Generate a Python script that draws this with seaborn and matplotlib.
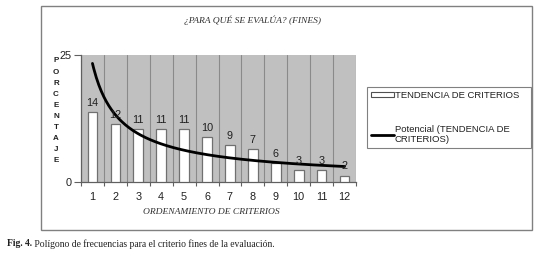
import numpy as np
import pandas as pd
import matplotlib
matplotlib.use("Agg")
import matplotlib.pyplot as plt
from matplotlib.patches import Rectangle
from matplotlib.lines import Line2D
import seaborn as sns

# ---- data ----
criterios = [1, 2, 3, 4, 5, 6, 7, 8, 9, 10, 11, 12]
porcentaje = [13.75, 11.4, 10.4, 10.4, 10.4, 8.9, 7.3, 6.5, 3.8, 2.4, 2.4, 1.25]
etiquetas = ["14", "12", "11", "11", "11", "10", "9", "7", "6", "3", "3", "2"]
y_ticks = [0, 25]
titulo = "¿PARA QUÉ SE EVALÚA? (FINES)"
eje_x = "ORDENAMIENTO DE CRITERIOS"
eje_y = "PORCENTAJE"
serie = "TENDENCIA DE CRITERIOS"
tendencia = "Potencial (TENDENCIA DE\nCRITERIOS)"
pie_bold = "Fig. 4."
pie_text = " Polígono de frecuencias para el criterio fines de la evaluación."

df = pd.DataFrame({"criterio": criterios, "porcentaje": porcentaje})

# power trendline (Excel style: least squares in log-log space)
b, lna = np.polyfit(np.log(criterios), np.log(porcentaje), 1)
xs = np.linspace(1, 12, 200)
trend = pd.DataFrame({"x": xs - 1, "y": np.exp(lna) * xs ** b})

sns.set_style("white")
plt.rcParams["font.family"] = ["Liberation Sans", "DejaVu Sans"]

W, H = 536, 267
fig = plt.figure(figsize=(W / 100, H / 100), dpi=100)

def fx(px):
    return px / W

def fy(py):
    return 1 - py / H

# outer frame
fig.patches.append(Rectangle((fx(41), fy(230)), fx(532) - fx(41), fy(6) - fy(230),
                             transform=fig.transFigure, fill=False,
                             edgecolor="#808080", linewidth=1.0))

ax = fig.add_axes([fx(81), fy(182), fx(356) - fx(81), fy(55) - fy(182)])
ax.set_facecolor("#c0c0c0")

sns.barplot(data=df, x="criterio", y="porcentaje", color="white",
            edgecolor="#707070", linewidth=0.9, width=0.42, saturation=1,
            ax=ax, zorder=3)
sns.lineplot(data=trend, x="x", y="y", color="black", linewidth=2.0, ax=ax,
             zorder=4)

for i, (v, t) in enumerate(zip(porcentaje, etiquetas)):
    ax.annotate(t, (i, v), xytext=(0, 3), textcoords="offset points",
                ha="center", va="bottom", fontsize=7.8, color="#202020",
                zorder=5)

n = len(criterios)
ax.set_xlim(-0.5, n - 0.5)
ax.set_ylim(0, 25)
for xb in np.arange(-0.5, n, 1.0):
    ax.axvline(xb, color="#8a8a8a", linewidth=0.8, zorder=1)

ax.set_yticks(y_ticks)
ax.set_xticks(range(n))
ax.set_xticklabels([str(c) for c in criterios])
ax.set_xticks(np.arange(-0.5, n, 1.0), minor=True)
ax.tick_params(axis="x", which="major", length=0, pad=7, labelsize=7.8,
               colors="#202020")
ax.tick_params(axis="x", which="minor", length=3, width=0.8, color="#606060",
               direction="out", bottom=True)
ax.tick_params(axis="y", length=5, width=0.8, color="#606060", pad=2,
               labelsize=7.8, labelcolor="#202020", left=True)
ax.set_xlabel("")
ax.set_ylabel("")
for s in ["top", "right"]:
    ax.spines[s].set_visible(False)
for s in ["left", "bottom"]:
    ax.spines[s].set_color("#606060")
    ax.spines[s].set_linewidth(0.9)
if ax.get_legend() is not None:
    ax.get_legend().remove()

# title and axis labels
fig.text(fx(252), fy(20), titulo, ha="center", va="center",
         family=["Liberation Serif", "DejaVu Serif"], style="italic",
         fontsize=6.8, color="#303030")
fig.text(fx(211), fy(212), eje_x, ha="center", va="center",
         family=["Liberation Serif", "DejaVu Serif"], style="italic",
         fontsize=6.8, color="#303030")
y0, y1 = 61, 161
for k, ch in enumerate(eje_y):
    yy = y0 + (y1 - y0) * k / (len(eje_y) - 1)
    fig.text(fx(56), fy(yy), ch, ha="center", va="center", fontsize=5.8,
             fontweight="bold", color="#202020")

# legend
handles = [Rectangle((0, 0), 1, 1, facecolor="white", edgecolor="#505050",
                     linewidth=0.8),
           Line2D([0], [0], color="black", linewidth=2.0)]
leg = fig.legend(handles, [serie, tendencia], loc="upper left",
                 bbox_to_anchor=(fx(367), fy(148), fx(531) - fx(367), fy(87) - fy(148)),
                 bbox_transform=fig.transFigure, mode="expand",
                 frameon=True, fancybox=False, edgecolor="#808080",
                 framealpha=1, fontsize=6.8, handlelength=2.4,
                 handleheight=0.4, handletextpad=0.1, labelspacing=2.6,
                 borderpad=0.45, borderaxespad=0)
leg.get_frame().set_linewidth(0.8)
for t in leg.get_texts():
    t.set_color("#202020")

# caption
cap = fig.text(fx(7), fy(244), pie_bold, ha="left", va="center",
               family=["Liberation Serif", "DejaVu Serif"], fontweight="bold",
               fontsize=6.9, color="#202020")
fig.canvas.draw()
bb = cap.get_window_extent()
fig.text(bb.x1 / W, fy(244), pie_text, ha="left", va="center",
         family=["Liberation Serif", "DejaVu Serif"], fontsize=6.9,
         color="#202020")

fig.savefig("out.png", dpi=100)
